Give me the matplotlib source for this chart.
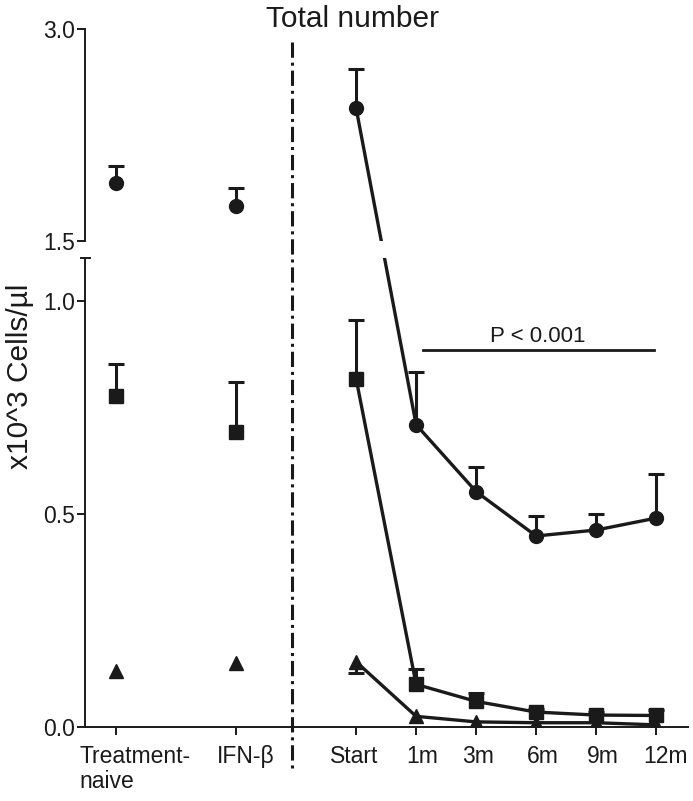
import matplotlib
matplotlib.use("Agg")
import numpy as np
import matplotlib.pyplot as plt
from matplotlib.transforms import ScaledTranslation, blended_transform_factory
from matplotlib.lines import Line2D

plt.rcParams['font.family'] = ['Liberation Sans', 'DejaVu Sans']

# ---- data ----
categories = ["Treatment-\nnaive", "IFN-\u03b2", "Start", "1m", "3m", "6m", "9m", "12m"]
x_pos = [0, 2, 4, 5, 6, 7, 8, 9]

# group values (Treatment-naive, IFN-beta)
circle_groups = [1.91, 1.75]
circle_groups_err = [0.12, 0.125]
square_groups = [0.777, 0.692]
square_groups_err = [0.075, 0.116]
triangle_groups = [0.132, 0.150]

# time course (Start .. 12m)
circle_time = [2.44, 0.709, 0.552, 0.448, 0.462, 0.490]
circle_time_err = [0.28, 0.124, 0.058, 0.047, 0.038, 0.104]
square_time = [0.817, 0.100, 0.060, 0.035, 0.028, 0.027]
square_time_err = [0.138, 0.035, 0.020, 0.008, 0.008, 0.012]
triangle_time = [0.153, 0.025, 0.012, 0.010, 0.010, 0.005]
triangle_time_err_low = [0.026, 0, 0, 0, 0, 0]

W, H = 693, 801
fig = plt.figure(figsize=(W / 100, H / 100), dpi=100)

def fx(px):
    return px / W

def fy(py):
    return 1 - py / H

left, right = 85, 688
ax_top = fig.add_axes([fx(left), fy(241), fx(right) - fx(left), fy(29) - fy(241)])
ax_bot = fig.add_axes([fx(left), fy(727), fx(right) - fx(left), fy(258) - fy(727)])

col = "#1a1a1a"
xlim = (-0.517, 9.53)
for ax in (ax_top, ax_bot):
    ax.set_xlim(*xlim)
    for s in ("top", "right"):
        ax.spines[s].set_visible(False)
    ax.spines["left"].set_linewidth(1.4)
    ax.spines["left"].set_color(col)
    ax.tick_params(axis="y", direction="out", length=6, width=1.4, labelsize=16.5, pad=1,
                   colors=col)

ax_top.set_ylim(1.5, 3.0)
ax_top.spines["bottom"].set_visible(False)
ax_top.set_xticks([])
ax_top.set_yticks([1.5, 3.0])
ax_top.set_yticklabels(["1.5", "3.0"])

ax_bot.set_ylim(0.0, 1.10)
ax_bot.spines["bottom"].set_linewidth(1.4)
ax_bot.spines["bottom"].set_color(col)
ax_bot.set_yticks([0.0, 0.5, 1.0])
ax_bot.set_yticklabels(["0.0", "0.5", "1.0"])
ax_bot.set_xticks(x_pos)
ax_bot.set_xticklabels(categories)
ax_bot.tick_params(axis="x", direction="out", length=6, width=1.4, labelsize=16.5, pad=7,
                   colors=col)
offsets = [19, 10, -2, 6, 2, 7, 7, 9]
for lab, dx in zip(ax_bot.get_xticklabels(), offsets):
    lab.set_multialignment("left")
    lab.set_linespacing(1.1)
    lab.set_transform(lab.get_transform() + ScaledTranslation(dx / 100, 0, fig.dpi_scale_trans))

# small cap at top of lower spine
fig.add_artist(Line2D([fx(81), fx(90)], [fy(258), fy(258)], color=col, lw=1.4))

BREAK = 1.3  # values above this live on the upper panel

def home(y):
    return ax_top if y > BREAK else ax_bot

def project(xs, ys, target):
    """map points (each in its own panel) to target panel's data coords (straight in pixels)"""
    disp = np.array([home(y).transData.transform((x, y)) for x, y in zip(xs, ys)])
    return target.transData.inverted().transform(disp)

def draw_series(xs, ys, marker, ms, line=True):
    for ax in (ax_top, ax_bot):
        p = project(xs, ys, ax)
        ax.plot(p[:, 0], p[:, 1], linestyle="-" if line else "none", marker=marker,
                color=col, ms=ms, lw=2.4, zorder=3)

def draw_err(xs, ys, up, low):
    for x, y, u, l in zip(xs, ys, up, low):
        ax = home(y)
        if u > 0:
            eb = ax.errorbar([x], [y], yerr=[[0], [u]], fmt="none", ecolor=col, elinewidth=2.2,
                             capsize=6, capthick=2.2, zorder=2)
            eb[1][0].set_visible(False)
        if l > 0:
            eb = ax.errorbar([x], [y], yerr=[[l], [0]], fmt="none", ecolor=col, elinewidth=2.2,
                             capsize=6, capthick=2.2, zorder=2)
            eb[1][1].set_visible(False)

gx = x_pos[:2]
tx = x_pos[2:]

# group points (no connecting line)
draw_err(gx, circle_groups, circle_groups_err, [0, 0])
draw_series(gx, circle_groups, "o", 10, line=False)
draw_err(gx, square_groups, square_groups_err, [0, 0])
draw_series(gx, square_groups, "s", 10, line=False)
draw_series(gx, triangle_groups, "^", 10.5, line=False)

# time course
draw_err(tx, circle_time, circle_time_err, [0] * 6)
draw_series(tx, circle_time, "o", 10)
draw_err(tx, square_time, square_time_err, [0] * 6)
draw_series(tx, square_time, "s", 10)
draw_err(tx, triangle_time, [0] * 6, triangle_time_err_low)
draw_series(tx, triangle_time, "^", 10.5)

# significance bar
ax_bot.plot([5.12, 8.97], [0.884, 0.884], color=col, lw=2.0)
ax_bot.text(7.02, 0.903, "P < 0.001", ha="center", va="baseline", fontsize=16, color=col)

# dash-dot separator spanning both panels
tr = blended_transform_factory(ax_bot.transData, fig.transFigure)
fig.add_artist(Line2D([2.93, 2.93], [fy(42), fy(770)], transform=tr, color=col, lw=2.2,
                      linestyle=(0, (5, 1.6, 1, 1.6))))

fig.text(fx(352), fy(19), "Total number", ha="center", va="center", fontsize=21.5, color=col)
fig.text(fx(20), fy(376), "x10^3 Cells/\u00b5l", ha="center", va="center", rotation=90,
         fontsize=21.5, color=col)

fig.savefig("out.png", dpi=100)
